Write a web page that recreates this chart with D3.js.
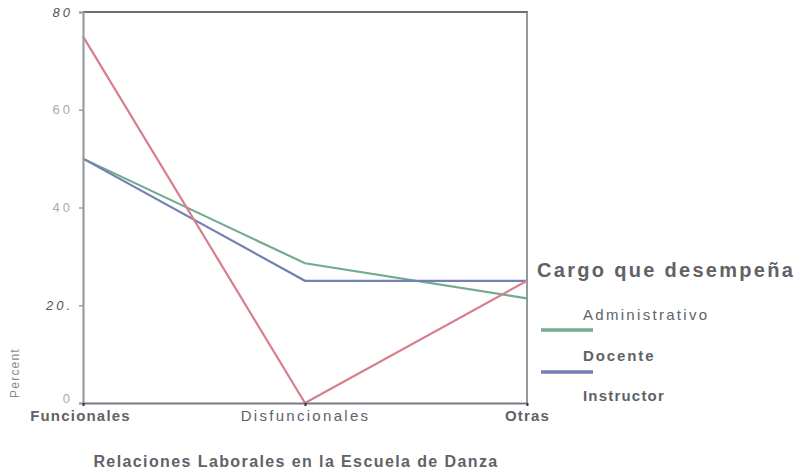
<!DOCTYPE html>
<html>
<head>
<meta charset="utf-8">
<script src="https://cdn.jsdelivr.net/npm/d3@7"></script>
<style>
  html, body { margin: 0; padding: 0; background: #fff; }
  svg { display: block; }
  text { font-family: "Liberation Sans", Arial, sans-serif; }
</style>
</head>
<body>
<svg id="chart" width="806" height="474"></svg>
<script>
// Categories on the x axis
const categories = ["Funcionales", "Disfuncionales", "Otras"];

// Percent per category for each job role
const administrativo = [50, 28.6, 21.4];
const docente = [50, 25, 25];
const instructor = [75, 0, 25];

const seriesNames = ["Administrativo", "Docente", "Instructor"];
const seriesColors = ["#72ab8e", "#7480b4", "#d77f8c"];

// Y axis tick values and their printed labels
const yTicks = [0, 20, 40, 60, 80];
const yTickLabels = ["0", "20.", "40", "60", "80"];

const series = [
  { name: seriesNames[0], values: administrativo, color: seriesColors[0] },
  { name: seriesNames[1], values: docente, color: seriesColors[1] },
  { name: seriesNames[2], values: instructor, color: seriesColors[2] }
];

const svg = d3.select("#chart");
const plotLeft = 83, plotRight = 527, plotTop = 12, plotBottom = 403;

const x = d3.scalePoint().domain(categories).range([plotLeft, plotRight]).padding(0);
const y = d3.scaleLinear().domain([0, 80]).range([plotBottom, plotTop]);

// Frame: top and right edges
svg.append("line")
  .attr("x1", plotLeft).attr("x2", plotRight + 1)
  .attr("y1", plotTop).attr("y2", plotTop)
  .attr("stroke", "#6a6e78").attr("stroke-width", 2.2);
svg.append("line")
  .attr("x1", plotRight).attr("x2", plotRight)
  .attr("y1", plotTop).attr("y2", plotBottom)
  .attr("stroke", "#8a8d95").attr("stroke-width", 1.8);

// Lines
const line = d3.line()
  .x((d, i) => x(categories[i]))
  .y(d => y(d));

svg.append("g").selectAll("path")
  .data(series)
  .join("path")
  .attr("d", d => line(d.values))
  .attr("fill", "none")
  .attr("stroke", d => d.color)
  .attr("stroke-width", 2.2);

// Y axis
const yAxis = d3.axisLeft(y)
  .tickValues(yTicks)
  .tickSize(4)
  .tickFormat((d, i) => yTickLabels[i]);
const gy = svg.append("g")
  .attr("transform", `translate(${plotLeft},0)`)
  .call(yAxis);
gy.select(".domain").attr("stroke", "#9a9ca2").attr("stroke-width", 2.2);
gy.selectAll(".tick line").attr("stroke", "#9a9ca2").attr("stroke-width", 1.5);
gy.selectAll(".tick text")
  .attr("x", -10)
  .attr("dy", d => d === 0 ? "-0.05em" : "0.32em")
  .attr("font-size", 13)
  .attr("letter-spacing", 3)
  .attr("fill", d => (d === 80 || d === 20) ? "#555" : "#aaa")
  .attr("font-style", d => (d === 80 || d === 20) ? "italic" : "normal");

// X axis
const xAxis = d3.axisBottom(x).tickSize(3).tickSizeOuter(0);
const gx = svg.append("g")
  .attr("transform", `translate(0,${plotBottom})`)
  .call(xAxis);
gx.select(".domain").attr("stroke", "#777a82").attr("stroke-width", 2);
gx.selectAll(".tick line").attr("stroke", "#333").attr("stroke-width", 2);
gx.selectAll(".tick text")
  .attr("y", 7)
  .attr("font-size", 15)
  .attr("fill", "#606268")
  .attr("font-weight", d => d === "Disfuncionales" ? "normal" : "bold")
  .attr("letter-spacing", d => d === "Disfuncionales" ? 2.3 : 1.2)
  .attr("dx", d => d === "Funcionales" ? -3 : 0);

// Y axis title
svg.append("text")
  .attr("transform", "translate(19,373) rotate(-90)")
  .attr("text-anchor", "middle")
  .attr("font-size", 12)
  .attr("letter-spacing", 1.2)
  .attr("fill", "#8a8a8a")
  .text("Percent");

// Chart title
svg.append("text")
  .attr("x", 296).attr("y", 467)
  .attr("text-anchor", "middle")
  .attr("font-size", 16)
  .attr("font-weight", "bold")
  .attr("letter-spacing", 1.4)
  .attr("fill", "#606268")
  .text("Relaciones Laborales en la Escuela de Danza");

// Legend
svg.append("text")
  .attr("x", 537).attr("y", 277)
  .attr("font-size", 20)
  .attr("font-weight", "bold")
  .attr("letter-spacing", 2.3)
  .attr("fill", "#606268")
  .text("Cargo que desempeña");

const legendRows = [
  { label: seriesNames[0], weight: "normal", ty: 320, ly: 330, color: seriesColors[0], ls: 2.3 },
  { label: seriesNames[1], weight: "bold", ty: 361, ly: 372, color: seriesColors[1], ls: 1.9 },
  { label: seriesNames[2], weight: "bold", ty: 401, ly: null, color: seriesColors[2], ls: 1.2 }
];
const lg = svg.append("g");
lg.selectAll("text")
  .data(legendRows)
  .join("text")
  .attr("x", 583).attr("y", d => d.ty)
  .attr("font-size", 15)
  .attr("font-weight", d => d.weight)
  .attr("letter-spacing", d => d.ls)
  .attr("fill", "#606268")
  .text(d => d.label);
lg.selectAll("line")
  .data(legendRows.filter(d => d.ly !== null))
  .join("line")
  .attr("x1", 541).attr("x2", 593)
  .attr("y1", d => d.ly).attr("y2", d => d.ly)
  .attr("stroke", d => d.color)
  .attr("stroke-width", 3.5);
</script>
</body>
</html>
